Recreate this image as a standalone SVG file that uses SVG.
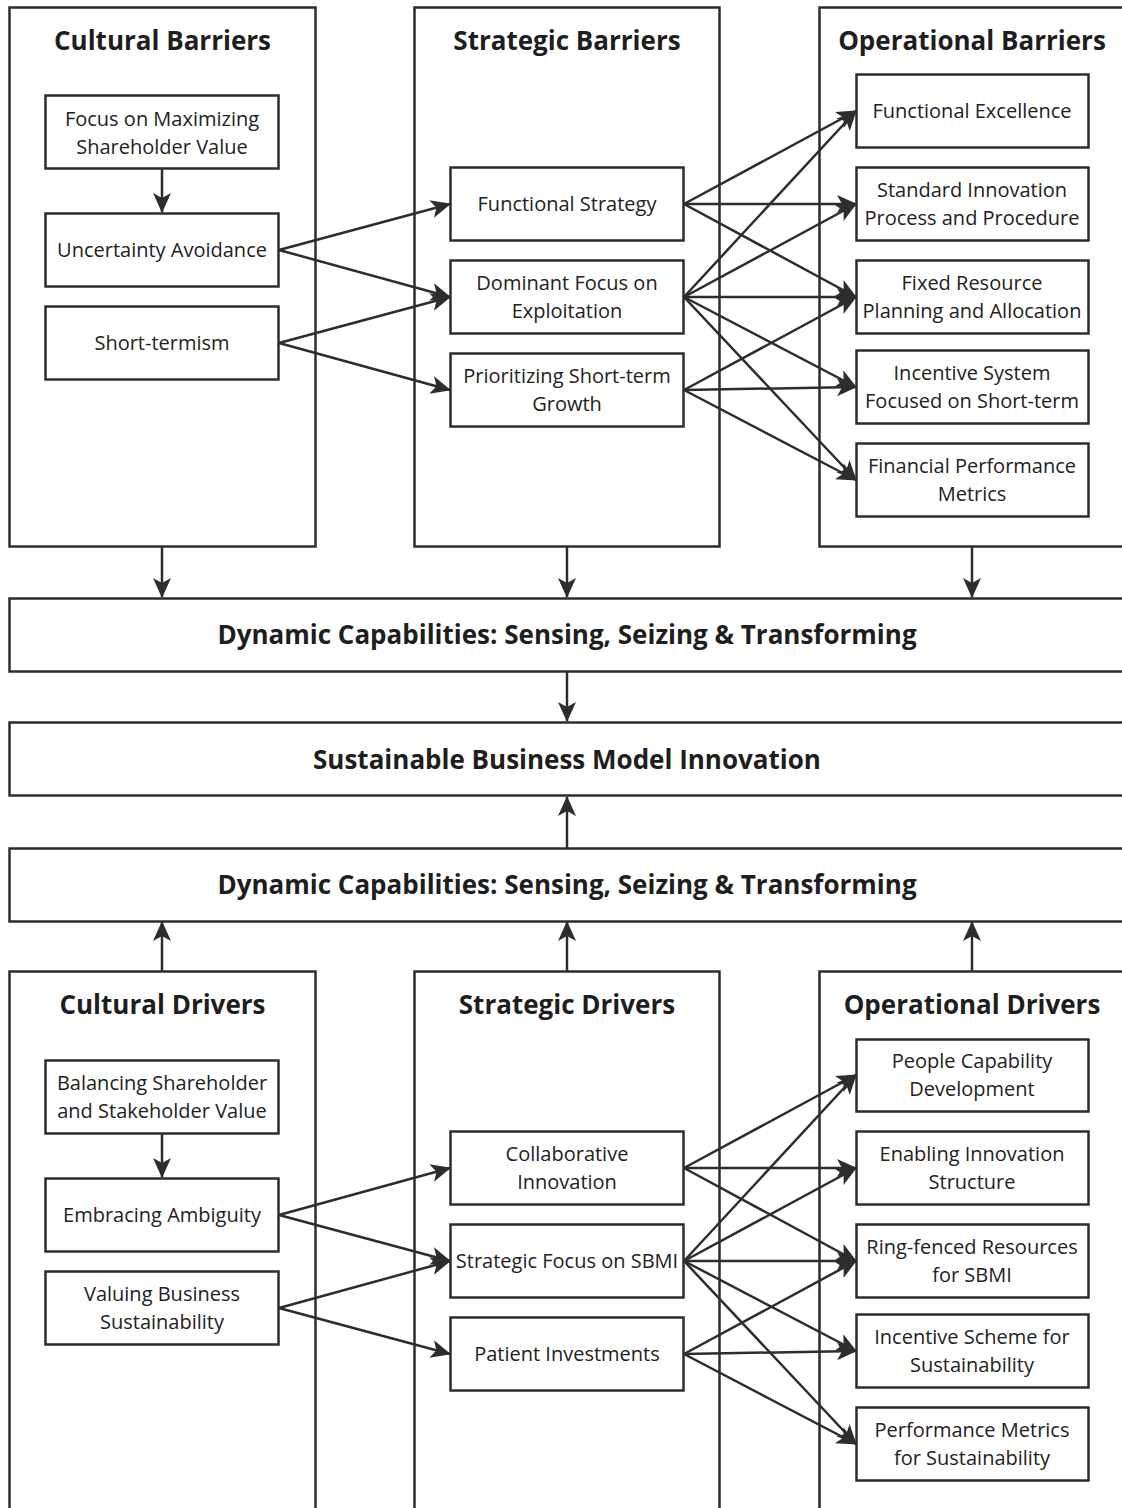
<svg xmlns="http://www.w3.org/2000/svg" width="1122" height="1508" viewBox="0 0 1122 1508">
<defs>
<marker id="ah" markerUnits="userSpaceOnUse" viewBox="0 0 20 20" markerWidth="20" markerHeight="20" refX="19" refY="10" orient="auto">
<path d="M0,1 L20,10 L0,19 L5,10 Z" fill="#2d2d2d"/>
</marker>
<style>
.panel{fill:#fff;stroke:#2d2d2d;stroke-width:2.5}
.box{fill:#fff;stroke:#2d2d2d;stroke-width:2.5}
.t{font-family:"Open Sans","Noto Sans",sans-serif;font-size:20px;fill:#222;text-anchor:middle}
.h{font-family:"Open Sans","Noto Sans",sans-serif;font-size:26px;font-weight:bold;fill:#1e1e1e;text-anchor:middle}
.c{fill:none;stroke:#2d2d2d;stroke-width:2.5;marker-end:url(#ah)}
</style>
</defs>
<rect width="1122" height="1508" fill="#fff"/>

<!-- Panels -->
<g id="cultural-barriers"><rect class="panel" x="9.5" y="7.5" width="306" height="539"/><text class="h" x="162.5" y="49.5">Cultural Barriers</text></g>
<g id="strategic-barriers"><rect class="panel" x="414.5" y="7.5" width="305" height="539"/><text class="h" x="567" y="49.5">Strategic Barriers</text></g>
<g id="operational-barriers"><rect class="panel" x="819.5" y="7.5" width="330" height="539"/><text class="h" x="972" y="49.5">Operational Barriers</text></g>

<g id="cultural-drivers"><rect class="panel" x="9.5" y="971.5" width="306" height="560"/><text class="h" x="162.5" y="1014">Cultural Drivers</text></g>
<g id="strategic-drivers"><rect class="panel" x="414.5" y="971.5" width="305" height="560"/><text class="h" x="567" y="1014">Strategic Drivers</text></g>
<g id="operational-drivers"><rect class="panel" x="819.5" y="971.5" width="330" height="560"/><text class="h" x="972" y="1014">Operational Drivers</text></g>

<g id="dc-top"><rect class="panel" x="9.5" y="598.5" width="1140" height="73"/><text class="h" x="567" y="644">Dynamic Capabilities: Sensing, Seizing &amp; Transforming</text></g>
<g id="sbmi"><rect class="panel" x="9.5" y="722.5" width="1140" height="73"/><text class="h" x="567" y="769">Sustainable Business Model Innovation</text></g>
<g id="dc-bottom"><rect class="panel" x="9.5" y="848.5" width="1140" height="73"/><text class="h" x="567" y="894">Dynamic Capabilities: Sensing, Seizing &amp; Transforming</text></g>

<!-- Top nodes: cultural -->
<g id="n-focus-max"><rect class="box" x="45.5" y="95.5" width="233" height="73"/><text class="t" x="162" y="126">Focus on Maximizing</text><text class="t" x="162" y="154">Shareholder Value</text></g>
<g id="n-uncertainty"><rect class="box" x="45.5" y="213.5" width="233" height="73"/><text class="t" x="162" y="257">Uncertainty Avoidance</text></g>
<g id="n-short-termism"><rect class="box" x="45.5" y="306.5" width="233" height="73"/><text class="t" x="162" y="350">Short-termism</text></g>

<!-- Top nodes: strategic -->
<g id="n-functional-strategy"><rect class="box" x="450.5" y="167.5" width="233" height="73"/><text class="t" x="567" y="211">Functional Strategy</text></g>
<g id="n-dominant-focus"><rect class="box" x="450.5" y="260.5" width="233" height="73"/><text class="t" x="567" y="290">Dominant Focus on</text><text class="t" x="567" y="318">Exploitation</text></g>
<g id="n-prioritizing"><rect class="box" x="450.5" y="353.5" width="233" height="73"/><text class="t" x="567" y="383">Prioritizing Short-term</text><text class="t" x="567" y="411">Growth</text></g>

<!-- Top nodes: operational -->
<g id="n-functional-excellence"><rect class="box" x="856.5" y="74.5" width="232" height="73"/><text class="t" x="972" y="118">Functional Excellence</text></g>
<g id="n-standard-innovation"><rect class="box" x="856.5" y="167.5" width="232" height="73"/><text class="t" x="972" y="197">Standard Innovation</text><text class="t" x="972" y="225">Process and Procedure</text></g>
<g id="n-fixed-resource"><rect class="box" x="856.5" y="260.5" width="232" height="73"/><text class="t" x="972" y="290">Fixed Resource</text><text class="t" x="972" y="318">Planning and Allocation</text></g>
<g id="n-incentive-system"><rect class="box" x="856.5" y="350.5" width="232" height="73"/><text class="t" x="972" y="380">Incentive System</text><text class="t" x="972" y="408">Focused on Short-term</text></g>
<g id="n-financial"><rect class="box" x="856.5" y="443.5" width="232" height="73"/><text class="t" x="972" y="473">Financial Performance</text><text class="t" x="972" y="501">Metrics</text></g>

<!-- Bottom nodes: cultural -->
<g id="n-balancing"><rect class="box" x="45.5" y="1060.5" width="233" height="73"/><text class="t" x="162" y="1090">Balancing Shareholder</text><text class="t" x="162" y="1118">and Stakeholder Value</text></g>
<g id="n-embracing"><rect class="box" x="45.5" y="1178.5" width="233" height="73"/><text class="t" x="162" y="1222">Embracing Ambiguity</text></g>
<g id="n-valuing"><rect class="box" x="45.5" y="1271.5" width="233" height="73"/><text class="t" x="162" y="1301">Valuing Business</text><text class="t" x="162" y="1329">Sustainability</text></g>

<!-- Bottom nodes: strategic -->
<g id="n-collaborative"><rect class="box" x="450.5" y="1131.5" width="233" height="73"/><text class="t" x="567" y="1161">Collaborative</text><text class="t" x="567" y="1189">Innovation</text></g>
<g id="n-strategic-focus"><rect class="box" x="450.5" y="1224.5" width="233" height="73"/><text class="t" x="567" y="1268">Strategic Focus on SBMI</text></g>
<g id="n-patient"><rect class="box" x="450.5" y="1317.5" width="233" height="73"/><text class="t" x="567" y="1361">Patient Investments</text></g>

<!-- Bottom nodes: operational -->
<g id="n-people"><rect class="box" x="856.5" y="1039.5" width="232" height="72"/><text class="t" x="972" y="1068">People Capability</text><text class="t" x="972" y="1096">Development</text></g>
<g id="n-enabling"><rect class="box" x="856.5" y="1131.5" width="232" height="73"/><text class="t" x="972" y="1161">Enabling Innovation</text><text class="t" x="972" y="1189">Structure</text></g>
<g id="n-ring-fenced"><rect class="box" x="856.5" y="1224.5" width="232" height="73"/><text class="t" x="972" y="1254">Ring-fenced Resources</text><text class="t" x="972" y="1282">for SBMI</text></g>
<g id="n-incentive-scheme"><rect class="box" x="856.5" y="1314.5" width="232" height="73"/><text class="t" x="972" y="1344">Incentive Scheme for</text><text class="t" x="972" y="1372">Sustainability</text></g>
<g id="n-performance"><rect class="box" x="856.5" y="1407.5" width="232" height="73"/><text class="t" x="972" y="1437">Performance Metrics</text><text class="t" x="972" y="1465">for Sustainability</text></g>

<!-- Connectors -->
<g id="connectors">
<line class="c" x1="162" y1="169" x2="162" y2="212"/>
<line class="c" x1="279" y1="250" x2="450" y2="204"/>
<line class="c" x1="279" y1="250" x2="450" y2="297"/>
<line class="c" x1="279" y1="343" x2="450" y2="297"/>
<line class="c" x1="279" y1="343" x2="450" y2="390"/>

<line class="c" x1="684" y1="204" x2="856" y2="111"/>
<line class="c" x1="684" y1="204" x2="856" y2="204"/>
<line class="c" x1="684" y1="204" x2="856" y2="297"/>
<line class="c" x1="684" y1="297" x2="856" y2="111"/>
<line class="c" x1="684" y1="297" x2="856" y2="204"/>
<line class="c" x1="684" y1="297" x2="856" y2="297"/>
<line class="c" x1="684" y1="297" x2="856" y2="387"/>
<line class="c" x1="684" y1="297" x2="856" y2="480"/>
<line class="c" x1="684" y1="390" x2="856" y2="297"/>
<line class="c" x1="684" y1="390" x2="856" y2="387"/>
<line class="c" x1="684" y1="390" x2="856" y2="480"/>

<line class="c" x1="162" y1="547" x2="162" y2="597"/>
<line class="c" x1="567" y1="547" x2="567" y2="597"/>
<line class="c" x1="972" y1="547" x2="972" y2="597"/>
<line class="c" x1="567" y1="672" x2="567" y2="721"/>
<line class="c" x1="567" y1="848" x2="567" y2="797"/>
<line class="c" x1="162" y1="971" x2="162" y2="922"/>
<line class="c" x1="567" y1="971" x2="567" y2="922"/>
<line class="c" x1="972" y1="971" x2="972" y2="922"/>

<line class="c" x1="162" y1="1134" x2="162" y2="1177"/>
<line class="c" x1="279" y1="1215" x2="450" y2="1168"/>
<line class="c" x1="279" y1="1215" x2="450" y2="1261"/>
<line class="c" x1="279" y1="1308" x2="450" y2="1261"/>
<line class="c" x1="279" y1="1308" x2="450" y2="1354"/>

<line class="c" x1="684" y1="1168" x2="856" y2="1075"/>
<line class="c" x1="684" y1="1168" x2="856" y2="1168"/>
<line class="c" x1="684" y1="1168" x2="856" y2="1261"/>
<line class="c" x1="684" y1="1261" x2="856" y2="1075"/>
<line class="c" x1="684" y1="1261" x2="856" y2="1168"/>
<line class="c" x1="684" y1="1261" x2="856" y2="1261"/>
<line class="c" x1="684" y1="1261" x2="856" y2="1351"/>
<line class="c" x1="684" y1="1261" x2="856" y2="1444"/>
<line class="c" x1="684" y1="1354" x2="856" y2="1261"/>
<line class="c" x1="684" y1="1354" x2="856" y2="1351"/>
<line class="c" x1="684" y1="1354" x2="856" y2="1444"/>
</g>
</svg>
